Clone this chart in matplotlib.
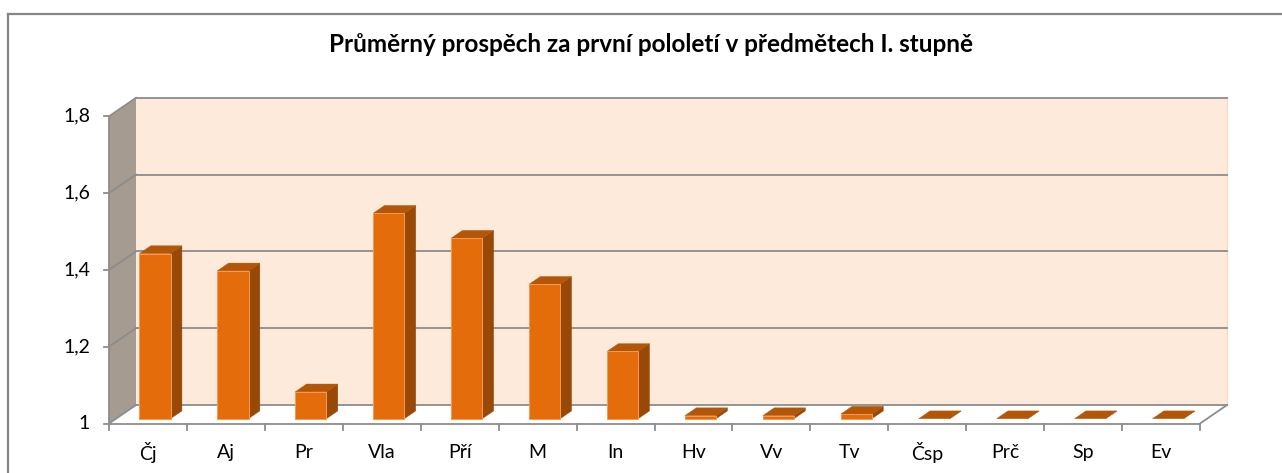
import matplotlib
matplotlib.use("Agg")
import matplotlib.pyplot as plt
from matplotlib.patches import Polygon
from matplotlib.lines import Line2D

# ---------------- data ----------------
title = "Průměrný prospěch za první pololetí v předmětech I. stupně"
categories = ["Čj", "Aj", "Pr", "Vla", "Pří", "M", "In", "Hv", "Vv", "Tv", "Čsp", "Prč", "Sp", "Ev"]
values = [1.43, 1.385, 1.07, 1.535, 1.47, 1.35, 1.175, 1.008, 1.008, 1.012, 1.0, 1.0, 1.0, 1.0]
y_ticks = [1.0, 1.2, 1.4, 1.6, 1.8]
y_tick_labels = ["1", "1,2", "1,4", "1,6", "1,8"]
y_min, y_max = 1.0, 1.8

# ---------------- style ----------------
FONT = ["Lato", "DejaVu Sans"]
C_FRONT = "#E46C0A"
C_TOP = "#B45608"
C_SIDE = "#984807"
C_EDGE = "#F59A55"
C_BACK = "#FDEADA"
C_LEFT = "#A59B91"
C_GRID = "#8C8C8C"

W, H = 1282, 473
fig = plt.figure(figsize=(W / 100, H / 100), dpi=100)
ax = fig.add_axes([0, 0, 1, 1])
ax.axis("off")

# layout of the front plane (pixels) -> axis limits
X0PX, CATPX = 109.0, 77.93       # left edge of category axis, px per category
V1PX, VPX = 423.5, 384.0          # y px of value 1 (from top), px per value unit
n = len(categories)
ax.set_xlim((0 - X0PX) / CATPX - 0.5, (W - X0PX) / CATPX - 0.5)
ax.set_ylim(1 + (V1PX - H) / VPX, 1 + V1PX / VPX)

DX = 27.0 / CATPX                  # full depth shift in category units
DV = 18.5 / VPX                    # full depth shift in value units


def P(x, v, z):
    return (x + z * DX, v + z * DV)


xl, xr = -0.5, n - 0.5

# walls
ax.add_patch(Polygon([P(xl, y_min, 1), P(xr, y_min, 1), P(xr, y_max, 1), P(xl, y_max, 1)],
                     closed=True, facecolor=C_BACK, edgecolor="none", zorder=1))
ax.plot([P(xr, y_min, 1)[0]] * 2, [P(xr, y_min, 1)[1], P(xr, y_max, 1)[1]],
        color="#F3DCCB", lw=1.0, zorder=1.5)
ax.add_patch(Polygon([P(xl, y_min, 0), P(xl, y_min, 1), P(xl, y_max, 1), P(xl, y_max, 0)],
                     closed=True, facecolor=C_LEFT, edgecolor="none", zorder=1))
# floor
ax.add_patch(Polygon([P(xl, y_min, 0), P(xr, y_min, 0), P(xr, y_min, 1), P(xl, y_min, 1)],
                     closed=True, facecolor="white", edgecolor="none", zorder=1))

# gridlines (back wall + left wall)
for v in y_ticks:
    a, b = P(xl, v, 1), P(xr, v, 1)
    ax.plot([a[0], b[0]], [a[1], b[1]], color=C_GRID, lw=1.3, zorder=2)
    c = P(xl, v, 0)
    ax.plot([c[0], a[0]], [c[1], a[1]], color=C_GRID, lw=1.3, zorder=2)

# floor edges
for pts in ([P(xl, y_min, 0), P(xr, y_min, 0)], [P(xr, y_min, 0), P(xr, y_min, 1)]):
    ax.plot([p[0] for p in pts], [p[1] for p in pts], color=C_GRID, lw=1.3, zorder=2)

# front value axis
ax.plot([xl, xl], [y_min, y_max], color=C_GRID, lw=1.3, zorder=2)
tick_len_x = 5.5 / CATPX
for v, lab in zip(y_ticks, y_tick_labels):
    ax.plot([xl - tick_len_x, xl], [v, v], color=C_GRID, lw=1.3, zorder=2)

# category ticks
tick_len_v = 6.5 / VPX
for i in range(n + 1):
    ax.plot([i - 0.5, i - 0.5], [y_min, y_min - tick_len_v], color=C_GRID, lw=1.3, zorder=2)

# bars
Z0, Z1 = 0.26, 0.68
HW = 0.2
for i, v in enumerate(values):
    x0, x1 = i - HW, i + HW
    front = [P(x0, y_min, Z0), P(x1, y_min, Z0), P(x1, v, Z0), P(x0, v, Z0)]
    side = [P(x1, y_min, Z0), P(x1, y_min, Z1), P(x1, v, Z1), P(x1, v, Z0)]
    top = [P(x0, v, Z0), P(x1, v, Z0), P(x1, v, Z1), P(x0, v, Z1)]
    ax.add_patch(Polygon(side, closed=True, facecolor=C_SIDE, edgecolor=C_SIDE, lw=0.3, zorder=3))
    ax.add_patch(Polygon(top, closed=True, facecolor=C_TOP, edgecolor=C_TOP, lw=0.3, zorder=3))
    if v > y_min:
        ax.add_patch(Polygon(front, closed=True, facecolor=C_FRONT, edgecolor=C_EDGE, lw=0.7, zorder=4))

# labels
fig.canvas.draw()
ren = fig.canvas.get_renderer()


def fit(t, target_w):
    w = t.get_window_extent(ren).width
    t.set_fontsize(t.get_fontsize() * target_w / w)


ylabs = []
for v, lab in zip(y_ticks, y_tick_labels):
    t = ax.text(xl - 19.0 / CATPX, v, lab, ha="right", va="center", fontsize=12,
                family=FONT, color="#000000")
    ylabs.append(t)
fit(ylabs[-1], 27.0)
for t in ylabs:
    t.set_fontsize(ylabs[-1].get_fontsize())
fs = ylabs[-1].get_fontsize()

label_v = y_min - 29.0 / VPX
for i, c in enumerate(categories):
    ax.text(i, label_v, c, ha="center", va="center", fontsize=fs, family=FONT, color="#000000")

tt = ax.text((651 - X0PX) / CATPX - 0.5, 1 + (V1PX - 45) / VPX, title, ha="center", va="center",
             fontsize=12, fontweight="bold", family=FONT, color="#000000")
fit(tt, 642.0)

# chart border (top and left visible, rest cropped)
fig.add_artist(Line2D([8 / W, 1.0], [1 - 14 / H] * 2, transform=fig.transFigure,
                      color="#868686", lw=1.6))
fig.add_artist(Line2D([8 / W] * 2, [0, 1 - 14 / H], transform=fig.transFigure,
                      color="#868686", lw=1.6))

fig.savefig("out.png", dpi=100)
